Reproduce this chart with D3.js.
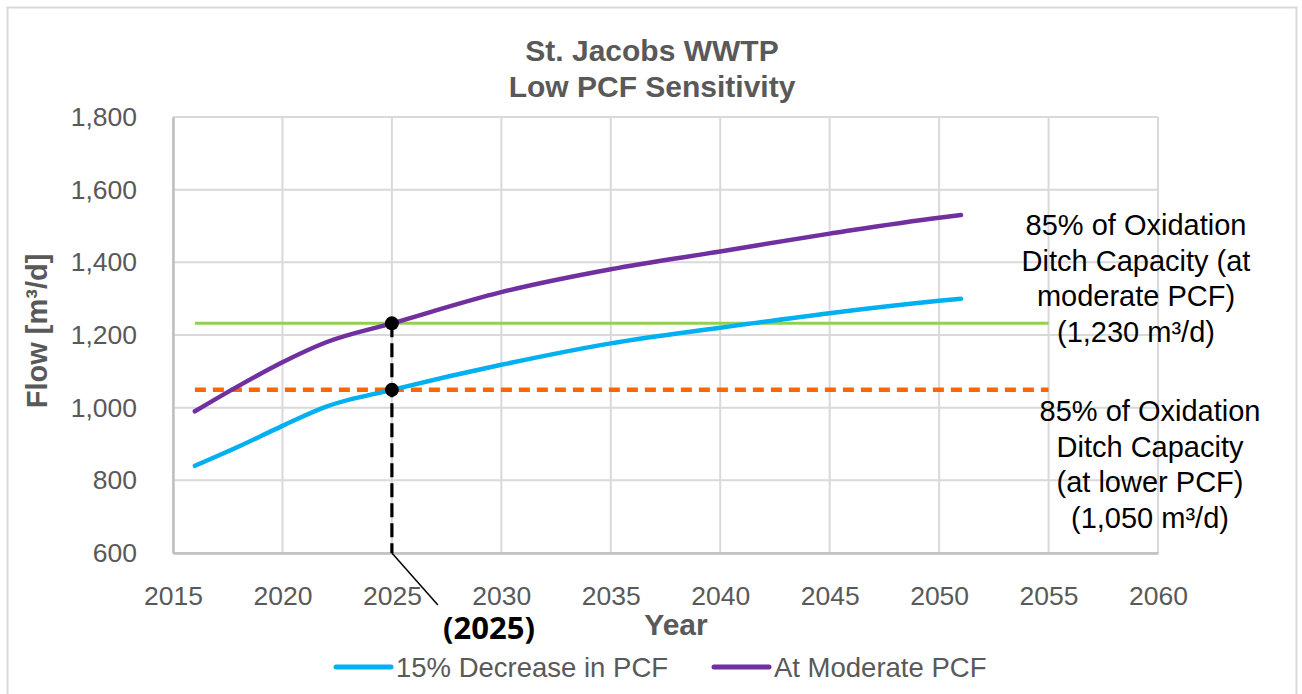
<!DOCTYPE html>
<html>
<head>
<meta charset="utf-8">
<script src="https://cdn.jsdelivr.net/npm/d3@7"></script>
<style>
  html, body { margin: 0; padding: 0; background: #fff; }
  svg { display: block; font-family: "Liberation Sans", Arial, sans-serif; }
</style>
</head>
<body>
<svg id="chart" width="1302" height="694"></svg>
<script>
// ---- data ----
const years = [2016, 2018, 2020, 2022, 2025, 2030, 2035, 2040, 2045, 2050, 2051];
const decreasePCF = [840, 893, 950, 1003, 1049, 1118, 1177, 1220, 1260, 1294, 1300];
const moderatePCF = [990, 1060, 1125, 1180, 1232, 1318, 1381, 1430, 1479, 1523, 1530];
const seriesNames = ["15% Decrease in PCF", "At Moderate PCF"];
const seriesColors = ["#00B0F0", "#7030A0"];
const capacityModerate = 1232;   // 85% of ditch capacity (moderate PCF)
const capacityLower = 1049;      // 85% of ditch capacity (lower PCF)
const capacityYears = [2016, 2055];
const markerYear = 2025;
const xTicks = [2015, 2020, 2025, 2030, 2035, 2040, 2045, 2050, 2055, 2060];
const yTicks = [600, 800, 1000, 1200, 1400, 1600, 1800];
const titleLines = ["St. Jacobs WWTP", "Low PCF Sensitivity"];
const noteModerate = ["85% of Oxidation", "Ditch Capacity (at", "moderate PCF)", "(1,230 m³/d)"];
const noteLower = ["85% of Oxidation", "Ditch Capacity", "(at lower PCF)", "(1,050 m³/d)"];

// ---- layout ----
const svg = d3.select("#chart");
const pL = 173, pR = 1158, pT = 117, pB = 553;
const x = d3.scaleLinear().domain([2015, 2060]).range([pL, pR]);
const y = d3.scaleLinear().domain([600, 1800]).range([pB, pT]);
const grey = "#595959";

// outer chart border
svg.append("rect").attr("x", 7.5).attr("y", 7.5).attr("width", 1289).attr("height", 700)
  .attr("fill", "#fff").attr("stroke", "#d9d9d9").attr("stroke-width", 2);

// title
svg.append("g").selectAll("text").data(titleLines).join("text")
  .attr("x", 652).attr("y", (d, i) => 61 + i * 35.5)
  .attr("text-anchor", "middle").attr("font-weight", "bold")
  .attr("font-size", 30).attr("fill", grey).text(d => d);

// gridlines
const grid = svg.append("g");
grid.selectAll("line.v").data(xTicks).join("line").attr("class", "v")
  .attr("x1", d => x(d)).attr("x2", d => x(d)).attr("y1", pT).attr("y2", pB)
  .attr("stroke", "#d9d9d9").attr("stroke-width", 2);
grid.selectAll("line.h").data(yTicks).join("line").attr("class", "h")
  .attr("x1", pL).attr("x2", pR).attr("y1", d => y(d)).attr("y2", d => y(d))
  .attr("stroke", "#d9d9d9").attr("stroke-width", 2);

// axes
const xAxis = svg.append("g").attr("transform", `translate(0,${pB})`)
  .call(d3.axisBottom(x).tickValues(xTicks).tickSize(0).tickFormat(d3.format("d")));
xAxis.select(".domain").attr("stroke", "#bfbfbf").attr("stroke-width", 2.5);
xAxis.selectAll("text").attr("dy", null).attr("y", 52)
  .attr("font-size", 26.5).attr("fill", grey).attr("font-family", "Liberation Sans, Arial, sans-serif");

const yAxis = svg.append("g").attr("transform", `translate(${pL},0)`)
  .call(d3.axisLeft(y).tickValues(yTicks).tickSize(0).tickPadding(36).tickFormat(d3.format(",")));
yAxis.select(".domain").attr("stroke", "#bfbfbf").attr("stroke-width", 2.5);
yAxis.selectAll("text").attr("font-size", 26.5).attr("fill", grey)
  .attr("font-family", "Liberation Sans, Arial, sans-serif");

// axis titles
svg.append("text").attr("transform", "translate(47,331) rotate(-90)")
  .attr("text-anchor", "middle").attr("font-weight", "bold").attr("font-size", 29)
  .attr("fill", grey).text("Flow [m³/d]");
svg.append("text").attr("x", 676).attr("y", 635).attr("text-anchor", "middle")
  .attr("font-weight", "bold").attr("font-size", 30).attr("fill", grey).text("Year");

// capacity lines
svg.append("line").attr("x1", x(capacityYears[0])).attr("x2", x(capacityYears[1]))
  .attr("y1", y(capacityModerate)).attr("y2", y(capacityModerate))
  .attr("stroke", "#92D050").attr("stroke-width", 3);
svg.append("line").attr("x1", x(capacityYears[0])).attr("x2", x(capacityYears[1]))
  .attr("y1", y(capacityLower)).attr("y2", y(capacityLower))
  .attr("stroke", "#FF6600").attr("stroke-width", 4.5).attr("stroke-dasharray", "11,7");

// series
const line = d3.line().x(d => x(d[0])).y(d => y(d[1])).curve(d3.curveMonotoneX);
[decreasePCF, moderatePCF].forEach((vals, i) => {
  svg.append("path").datum(years.map((yr, j) => [yr, vals[j]]))
    .attr("d", line).attr("fill", "none").attr("stroke", seriesColors[i])
    .attr("stroke-width", 4.5).attr("stroke-linecap", "round");
});

// 2025 marker
svg.append("line").attr("x1", x(markerYear)).attr("x2", x(markerYear))
  .attr("y1", y(capacityModerate)).attr("y2", y(600))
  .attr("stroke", "#000").attr("stroke-width", 3.2).attr("stroke-dasharray", "14,6");
svg.selectAll("circle.m").data([capacityModerate, capacityLower]).join("circle")
  .attr("class", "m").attr("cx", x(markerYear)).attr("cy", d => y(d)).attr("r", 7)
  .attr("fill", "#000");
svg.append("line").attr("x1", x(markerYear)).attr("y1", y(600))
  .attr("x2", x(markerYear) + 46).attr("y2", y(600) + 52)
  .attr("stroke", "#000").attr("stroke-width", 1.5);
svg.append("text").attr("x", 489).attr("y", 639).attr("text-anchor", "middle")
  .attr("font-family", "'Open Sans', sans-serif").attr("font-weight", "bold")
  .attr("font-size", 31).attr("fill", "#000").text("(" + markerYear + ")");

// notes
svg.append("g").selectAll("text").data(noteModerate).join("text")
  .attr("x", 1136).attr("y", (d, i) => 235 + i * 35.5).attr("text-anchor", "middle")
  .attr("font-size", 29).attr("fill", "#000").text(d => d);
svg.append("g").selectAll("text").data(noteLower).join("text")
  .attr("x", 1150).attr("y", (d, i) => 421 + i * 35.5).attr("text-anchor", "middle")
  .attr("font-size", 29).attr("fill", "#000").text(d => d);

// legend
const legendX = [336, 714];
const lg = svg.append("g");
seriesNames.forEach((name, i) => {
  lg.append("line").attr("x1", legendX[i]).attr("x2", legendX[i] + 55)
    .attr("y1", 667).attr("y2", 667).attr("stroke", seriesColors[i])
    .attr("stroke-width", 5).attr("stroke-linecap", "round");
  lg.append("text").attr("x", legendX[i] + 60).attr("y", 677)
    .attr("font-size", 27.5).attr("fill", grey).text(name);
});
</script>
</body>
</html>
